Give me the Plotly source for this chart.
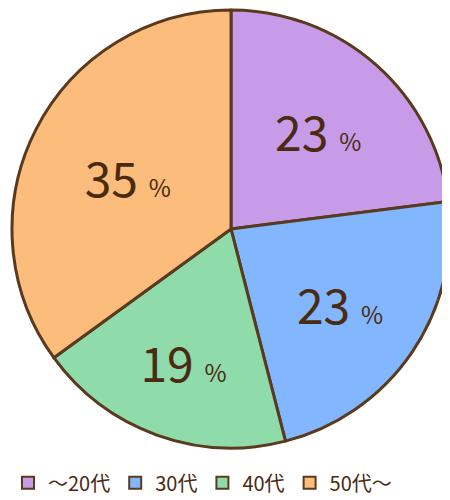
import plotly.graph_objects as go

labels = ["～20代", "30代", "40代", "50代～"]
values = [23, 23, 19, 35]
colors = ["#C89BE8", "#82B6FF", "#8FDBA9", "#FCBC7C"]

texts = [f"{v} <span style='font-size:24px'>%</span>" for v in values]

fig = go.Figure(go.Pie(
    labels=labels, values=values, sort=False, direction="clockwise", rotation=0,
    marker=dict(colors=colors, line=dict(color="#5A3A1E", width=3)),
    text=texts, textinfo="text", textposition="inside", insidetextorientation="horizontal",
    textfont=dict(size=48, color="#4A2A10", family="Noto Sans CJK JP"),
    hoverinfo="label+percent",
    domain=dict(x=[0, 1], y=[0, 1]),
))
fig.update_layout(
    width=450, height=500, margin=dict(l=4, r=8, t=0, b=58),
    paper_bgcolor="white",
    font=dict(family="Noto Sans CJK JP", color="#4A2A10"),
    legend=dict(orientation="h", x=-0.01, xanchor="left", y=-0.03, yanchor="top",
                font=dict(size=20, color="#4A2A10"), itemwidth=30, itemsizing="constant",
                traceorder="normal"),
)
fig.write_html("out.html")
